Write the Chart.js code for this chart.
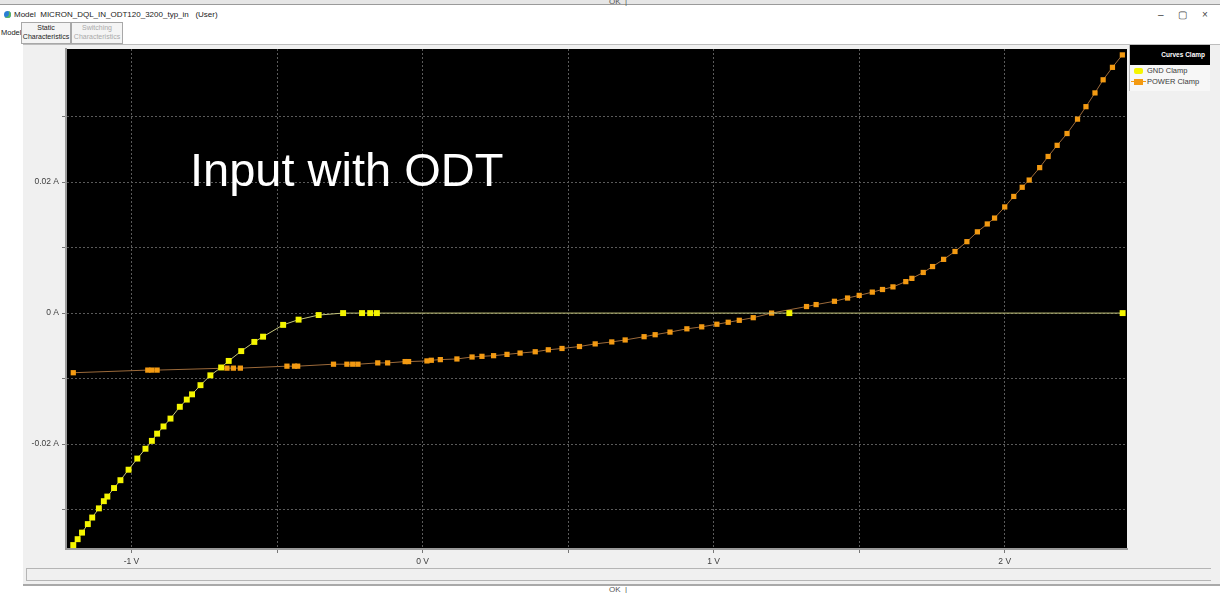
<!DOCTYPE html>
<html>
<head>
<meta charset="utf-8">
<script src="https://cdn.jsdelivr.net/npm/chart.js@4.4.1/dist/chart.umd.min.js"></script>
<style>
  html, body { margin: 0; padding: 0; background: #fff; width: 1220px; height: 593px; overflow: hidden;
    font-family: "Liberation Sans", Arial, sans-serif; }
  .abs { position: absolute; }
  #topstrip { left: 0; top: 0; width: 1220px; height: 4px; background: #e6e6e6; border-bottom: 1px solid #9a9a9a; }
  .ok { font-size: 8px; color: #555; }
  #title { left: 4px; top: 10px; font-size: 8px; color: #222; white-space: pre; }
  #title i { display: inline-block; width: 7px; height: 7px; border-radius: 50%; background: #2a7fd4; margin-right: 3px; vertical-align: -1px; box-shadow: inset -2px -1px 0 #5cb85c; }
  #wincontrols { left: 1158px; top: 9px; font-size: 10px; color: #444; word-spacing: 12px; }
  .tab { top: 22px; height: 20px; border: 1px solid #a8a8a8; font-size: 7px; text-align: center; line-height: 9px; background: #f4f4f4; }
  #panel { left: 23px; top: 44px; width: 1197px; height: 539px; background: #f0f0f0; border-top: 1px solid #bdbdbd; border-bottom: 2px solid #a9a9a9; }
  #statusbox { left: 26px; top: 568px; width: 1184px; height: 11px; border: 1px solid #b5b5b5; border-right: none; background: #f0f0f0; }
  #legend { left: 1129px; top: 45px; width: 80px; height: 46px; background: #f7f7f7; border-left: 1px solid #bbb; font-size: 7.5px; color: #3a3a3a; }
  #legend .head { height: 16px; background: #000; border: 2px solid #000; color: #fff; font-weight: bold; text-align: right; line-height: 15px; padding-right: 3px; font-size: 6.5px; }
  #legend .row { height: 11px; line-height: 11px; position: relative; padding-left: 17px; }
  #legend .sw { position: absolute; left: 4px; top: 3px; width: 9px; height: 6px; }
  #chartbox { left: 0; top: 0; width: 1220px; height: 593px; }
</style>
</head>
<body>
<div class="abs" id="topstrip"></div>
<div class="abs ok" style="left:609px; top:-3px;">OK &nbsp;|</div>
<div class="abs" id="title"><i></i>Model  MICRON_DQL_IN_ODT120_3200_typ_in   (User)</div>
<div class="abs" id="wincontrols">– ▢ ×</div>
<div class="abs" style="left:1px; top:28px; font-size:7.5px; color:#222;">Model</div>
<div class="abs tab" style="left:21px; width:48px; color:#222;">Static<br>Characteristics</div>
<div class="abs tab" style="left:71px; width:50px; color:#aaa;">Switching<br>Characteristics</div>
<div class="abs" id="panel"></div>
<div class="abs" id="statusbox"></div>
<div class="abs ok" style="left:609px; top:585px;">OK &nbsp;|</div>
<div class="abs" id="legend">
  <div class="head">Curves Clamp</div>
  <div class="row"><span class="sw" style="background:#f5f500; border-radius:2px;"></span>GND Clamp</div>
  <div class="row"><span class="sw" style="background:#f39a12;"></span><span class="abs" style="left:1px; top:5px; width:15px; height:1px; background:#f39a12;"></span>POWER Clamp</div>
</div>
<div class="abs" id="chartbox"><canvas id="iv-chart" width="1220" height="593"></canvas></div>

<script>
// voltage (V) / current (A)
const gndVolts = [-1.200, -1.185, -1.170, -1.150, -1.135, -1.112, -1.095, -1.083, -1.060, -1.038,
    -1.010, -0.980, -0.952, -0.930, -0.912, -0.890, -0.866, -0.834, -0.810, -0.792,
    -0.763, -0.729, -0.692, -0.666, -0.623, -0.578, -0.548, -0.479, -0.426, -0.357,
    -0.273, -0.208, -0.180, -0.157, 1.260, 2.405];
const gndAmps = [-0.0354, -0.0345, -0.0335, -0.0322, -0.0312, -0.0298, -0.0287, -0.0280, -0.0267, -0.0255,
    -0.0239, -0.0222, -0.0207, -0.0195, -0.0184, -0.0173, -0.0161, -0.0143, -0.0132, -0.0124,
    -0.0110, -0.0095, -0.0083, -0.0073, -0.0058, -0.0044, -0.0036, -0.0018, -0.0010, -0.0003,
    0, 0, 0, 0, 0, 0];

const powerVolts = [-1.200, -0.944, -0.930, -0.912, -0.672, -0.650, -0.626, -0.466, -0.440, -0.429,
    -0.306, -0.260, -0.240, -0.222, -0.154, -0.120, -0.060, -0.048, 0.015, 0.030,
    0.061, 0.118, 0.170, 0.204, 0.244, 0.290, 0.335, 0.387, 0.432, 0.479,
    0.539, 0.593, 0.650, 0.696, 0.761, 0.799, 0.850, 0.908, 0.959, 1.011,
    1.050, 1.088, 1.136, 1.199, 1.319, 1.352, 1.415, 1.460, 1.500, 1.545,
    1.580, 1.616, 1.660, 1.681, 1.720, 1.752, 1.790, 1.829, 1.870, 1.906,
    1.940, 1.965, 2.000, 2.031, 2.060, 2.084, 2.120, 2.149, 2.180, 2.214,
    2.250, 2.279, 2.310, 2.338, 2.370, 2.404];
const powerAmps = [-0.0091, -0.0087, -0.0087, -0.0087, -0.0084, -0.0084, -0.0084, -0.0081, -0.0081, -0.0081,
    -0.0078, -0.0078, -0.0078, -0.0078, -0.0076, -0.0076, -0.0074, -0.0074, -0.0073, -0.0072,
    -0.0071, -0.0070, -0.0067, -0.0066, -0.0065, -0.0063, -0.0061, -0.0059, -0.0056, -0.0054,
    -0.0051, -0.0047, -0.0044, -0.0041, -0.0036, -0.0033, -0.0029, -0.0024, -0.0021, -0.0017,
    -0.0014, -0.0011, -0.0007, 0.0000, 0.0010, 0.0013, 0.0018, 0.0023, 0.0027, 0.0032,
    0.0036, 0.0040, 0.0048, 0.0053, 0.0062, 0.0071, 0.0082, 0.0094, 0.0109, 0.0124,
    0.0136, 0.0145, 0.0162, 0.0178, 0.0192, 0.0203, 0.0222, 0.0239, 0.0256, 0.0274,
    0.0296, 0.0315, 0.0336, 0.0356, 0.0375, 0.0394];

const xTickVolts = [-1, 0, 1, 2];
const yTickAmps = [-0.02, 0, 0.02];
const chartNote = 'Input with ODT';

function toPoints(xs, ys) {
    return xs.map((x, i) => ({ x: x, y: ys[i] }));
}

/* ============================== PLUGINS ============================== */
const blackPlotPlugin = {
    id: 'blackPlot',
    beforeDraw(chart) {
        const { ctx, chartArea: a } = chart;
        ctx.save();
        ctx.fillStyle = '#000';
        ctx.fillRect(a.left + 1, a.top, a.right - a.left - 1, a.bottom - a.top);
        ctx.restore();
    },
    afterDraw(chart) {
        const { ctx } = chart;
        ctx.save();
        ctx.fillStyle = '#fff';
        ctx.font = '47px "Liberation Sans", Arial, sans-serif';
        ctx.textBaseline = 'alphabetic';
        ctx.fillText(chartNote, 190, 186);
        ctx.restore();
    }
};

function onlyEvery(step) {
    return function (scale) {
        scale.ticks = scale.ticks.filter(t => Math.abs(t.value / step - Math.round(t.value / step)) < 1e-6);
    };
}

const gridStyle = {
    color: '#5a5a5a',
    tickColor: '#777',
    tickLength: 4,
    tickBorderDash: []
};

/* ============================== CHART ============================== */
function ivChart() {
    const ctx = document.getElementById('iv-chart').getContext('2d');

    new Chart(ctx, {
        type: 'line',
        data: {
            datasets: [{
                label: 'GND Clamp',
                data: toPoints(gndVolts, gndAmps),
                borderColor: '#c4c47a',
                borderWidth: 1,
                pointStyle: 'rect',
                pointRadius: 4.2,
                pointBackgroundColor: '#f5f500',
                pointBorderWidth: 0,
                tension: 0
            }, {
                label: 'POWER Clamp',
                data: toPoints(powerVolts, powerAmps),
                borderColor: '#9c6a3a',
                borderWidth: 1,
                pointStyle: 'rect',
                pointRadius: 3.7,
                pointBackgroundColor: '#f39a12',
                pointBorderWidth: 0,
                tension: 0
            }]
        },
        options: {
            responsive: false,
            animation: false,
            layout: { padding: { left: 21, top: 49, right: 93, bottom: 22 } },
            plugins: {
                legend: { display: false },
                tooltip: { enabled: false }
            },
            scales: {
                x: {
                    type: 'linear',
                    min: -1.225,
                    max: 2.42,
                    afterFit(scale) { scale.height = 22; },
                    afterBuildTicks: onlyEvery(0.5),
                    ticks: {
                        stepSize: 0.5,
                        padding: 4,
                        color: '#404040',
                        font: { size: 8.5, family: '"Liberation Sans", Arial' },
                        maxRotation: 0,
                        callback(v) {
                            const r = Math.round(v);
                            return (Math.abs(v - r) < 1e-6 && xTickVolts.includes(r)) ? r + ' V' : '';
                        }
                    },
                    grid: gridStyle,
                    border: { color: '#9a9a9a', width: 2, dash: [2, 2] }
                },
                y: {
                    type: 'linear',
                    min: -0.0360,
                    max: 0.0403,
                    afterFit(scale) { scale.width = 45; },
                    afterBuildTicks: onlyEvery(0.01),
                    ticks: {
                        stepSize: 0.01,
                        padding: 3,
                        color: '#404040',
                        font: { size: 8.5, family: '"Liberation Sans", Arial' },
                        callback(v) {
                            const hit = yTickAmps.find(t => Math.abs(t - v) < 1e-6);
                            if (hit === undefined) return '';
                            return hit === 0 ? '0 A' : hit.toFixed(2) + ' A';
                        }
                    },
                    grid: gridStyle,
                    border: { color: '#9a9a9a', width: 2, dash: [2, 2] }
                }
            }
        },
        plugins: [blackPlotPlugin]
    });
}

document.addEventListener('DOMContentLoaded', function () {
    ivChart();
});
</script>
</body>
</html>
